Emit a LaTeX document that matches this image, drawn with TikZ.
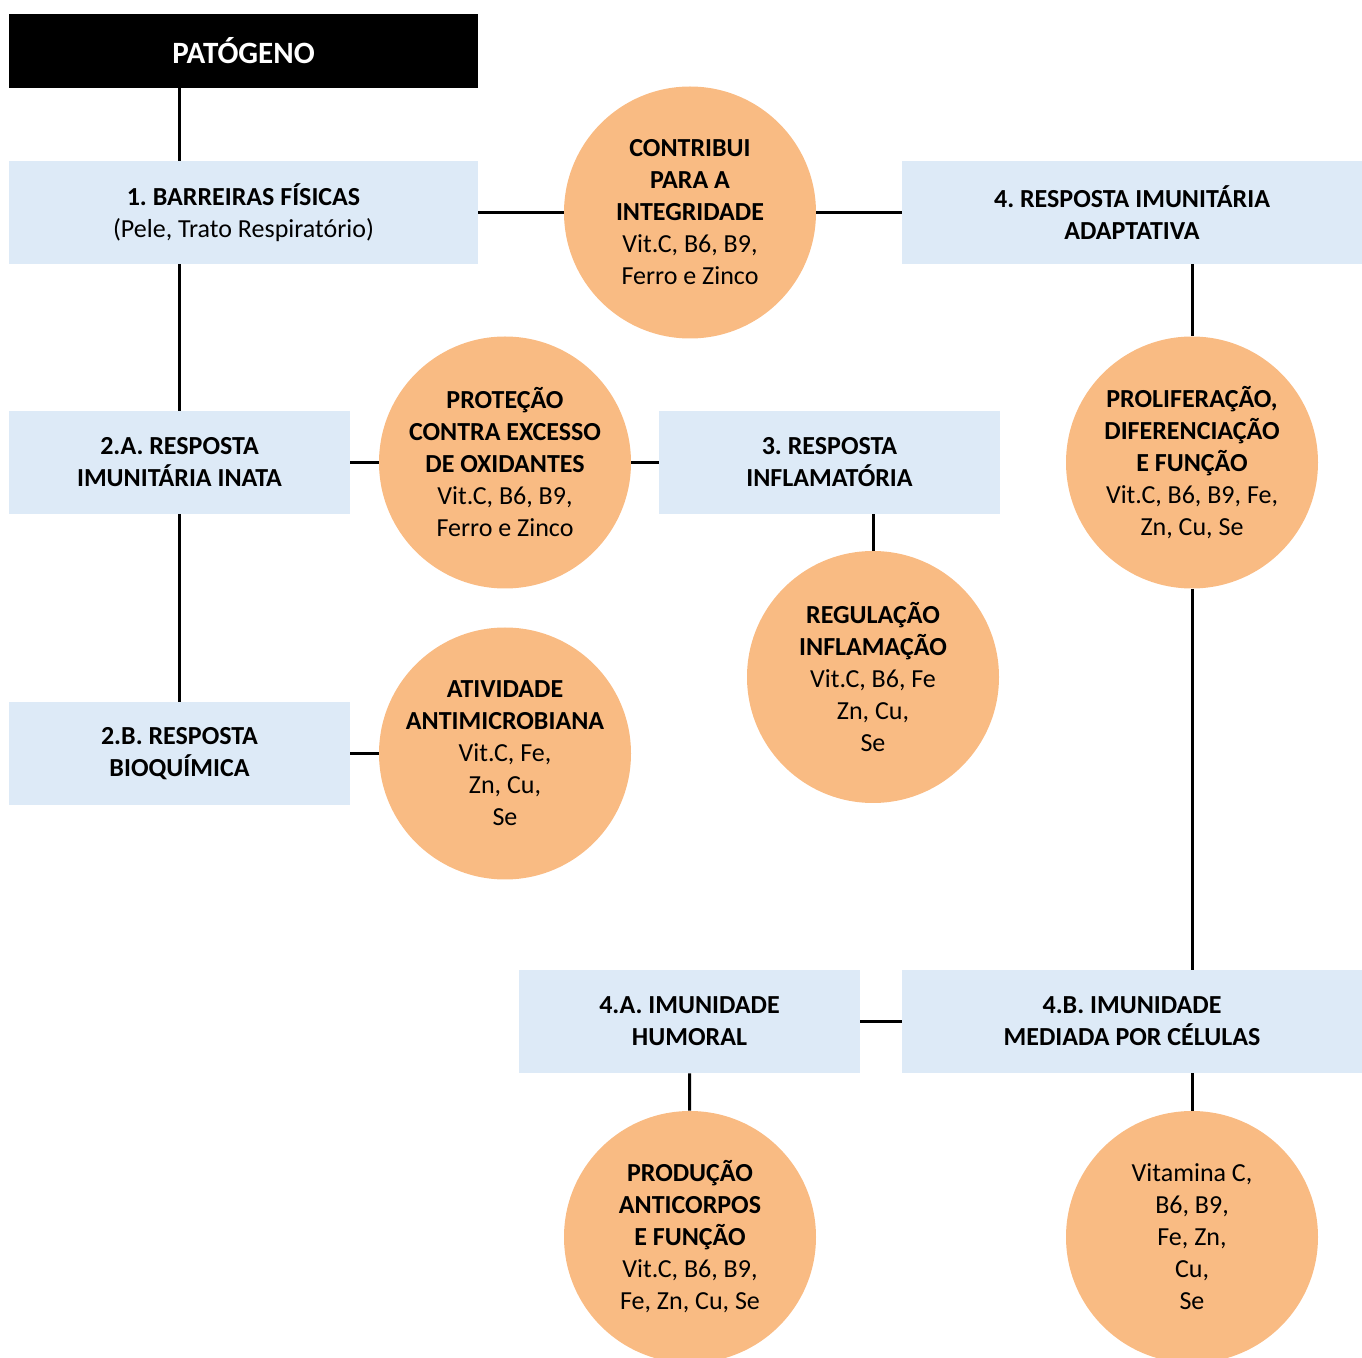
\documentclass[tikz,border=0pt]{standalone}
\usepackage{fontspec}
\setmainfont{Carlito}
\frenchspacing
\definecolor{boxblue}{RGB}{221,234,247}
\definecolor{discorange}{RGB}{249,187,131}

\begin{document}
\begin{tikzpicture}[x=0.5pt, y=-0.5pt,
  box/.style={fill=boxblue, inner sep=0pt, align=center, minimum height=51.5pt, font=\fontsize{13}{16}\selectfont\bfseries},
  disc/.style={circle, fill=discorange, inner sep=0pt, minimum size=126pt, align=center, font=\fontsize{13}{16}\selectfont},
  link/.style={line width=1.5pt}]
\def\xl{179.5}
\def\xm{243.5}
\def\xc{505}
\def\xd{690}
\def\xe{873}
\def\xr{1132}
\def\xs{1192}

\def\ya{51}
\def\yb{212.5}
\def\yc{462.5}
\def\yd{677}
\def\ye{753.5}
\def\yf{1021.5}
\def\yg{1237}

\clip (0,0) rectangle (1362,1358);

\node[fill=black, text=white, minimum width=234.5pt, minimum height=37pt, inner sep=0pt, font=\fontsize{15.5}{18}\selectfont\bfseries] (patogeno) at (\xm, \ya) {PATÓGENO};

\node[box, minimum width=234.5pt] (barreiras) at (\xm, \yb) {1. BARREIRAS FÍSICAS\\{\mdseries (Pele, Trato Respiratório)}};
\node[disc] (integridade) at (\xd, \yb) {\textbf{CONTRIBUI}\\\textbf{PARA A}\\\textbf{INTEGRIDADE}\\Vit.C, B6, B9,\\Ferro e Zinco};
\node[box, minimum width=230pt] (adaptativa) at (\xr, \yb) {4. RESPOSTA IMUNITÁRIA\\ADAPTATIVA};

\node[box, minimum width=170.5pt] (inata) at (\xl, \yc) {2.A. RESPOSTA\\IMUNITÁRIA INATA};
\node[disc] (oxidantes) at (\xc, \yc) {\textbf{PROTEÇÃO}\\\textbf{CONTRA EXCESSO}\\\textbf{DE OXIDANTES}\\Vit.C, B6, B9,\\Ferro e Zinco};
\node[box, minimum width=170.5pt] (inflamatoria) at (829.5, \yc) {3. RESPOSTA\\INFLAMATÓRIA};
\node[disc] (proliferacao) at (\xs, \yc) {\textbf{PROLIFERAÇÃO,}\\\textbf{DIFERENCIAÇÃO}\\\textbf{E FUNÇÃO}\\Vit.C, B6, B9, Fe,\\Zn, Cu, Se};

\node[disc] (regulacao) at (\xe, \yd) {\textbf{REGULAÇÃO}\\\textbf{INFLAMAÇÃO}\\Vit.C, B6, Fe\\Zn, Cu,\\Se};

\node[box, minimum width=170.5pt] (bioquimica) at (\xl, \ye) {2.B. RESPOSTA\\BIOQUÍMICA};
\node[disc] (antimicrobiana) at (\xc, \ye) {\textbf{ATIVIDADE}\\\textbf{ANTIMICROBIANA}\\Vit.C, Fe,\\Zn, Cu,\\Se};

\node[box, minimum width=170.5pt] (humoral) at (689.5, \yf) {4.A. IMUNIDADE\\HUMORAL};
\node[box, minimum width=230pt] (celulas) at (\xr, \yf) {4.B. IMUNIDADE\\MEDIADA POR CÉLULAS};

\node[disc] (anticorpos) at (\xd, \yg) {\textbf{PRODUÇÃO}\\\textbf{ANTICORPOS}\\\textbf{E FUNÇÃO}\\Vit.C, B6, B9,\\Fe, Zn, Cu, Se};
\node[disc] (vitaminas) at (\xs, \yg) {Vitamina C,\\B6, B9,\\Fe, Zn,\\Cu,\\Se};

\draw[link] (patogeno.south -| inata) -- (barreiras.north -| inata);
\draw[link] (barreiras.south -| inata) -- (inata);
\draw[link] (inata) -- (bioquimica);
\draw[link] (barreiras) -- (integridade);
\draw[link] (integridade) -- (adaptativa);
\draw[link] (inata) -- (oxidantes);
\draw[link] (oxidantes) -- (inflamatoria);
\draw[link] (inflamatoria.south -| regulacao) -- (regulacao);
\draw[link] (bioquimica) -- (antimicrobiana);
\draw[link] (adaptativa.south -| proliferacao) -- (proliferacao);
\draw[link] (proliferacao) -- (celulas.north -| proliferacao);
\draw[link] (humoral) -- (celulas);
\draw[link] (humoral) -- (anticorpos);
\draw[link] (celulas.south -| vitaminas) -- (vitaminas);

\end{tikzpicture}
\end{document}
